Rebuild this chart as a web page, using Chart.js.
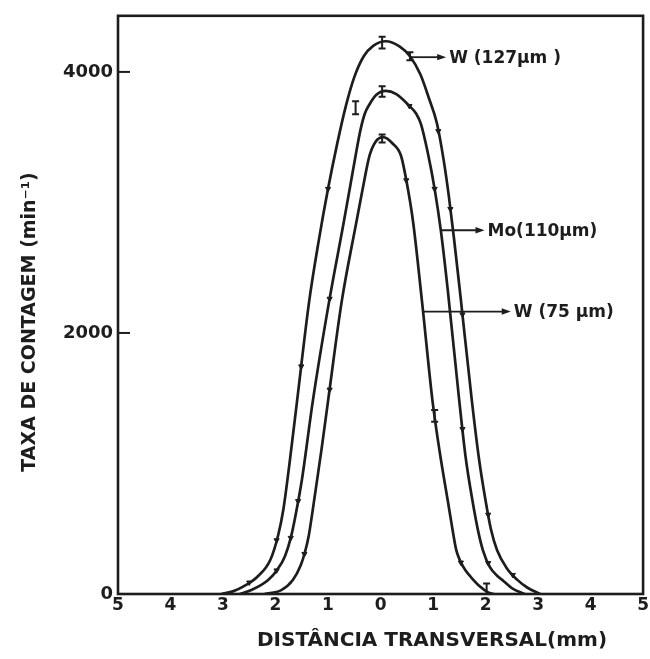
<!DOCTYPE html>
<html>
<head>
<meta charset="utf-8">
<script src="https://cdn.jsdelivr.net/npm/chart.js@4.4.1/dist/chart.umd.min.js"></script>
<style>
html,body{margin:0;padding:0;background:#fff;}
#wrap{width:650px;height:659px;}
</style>
</head>
<body>
<div id="wrap"><canvas id="c" width="650" height="659"></canvas></div>
<script>
// ---- data ----
const seriesNames = ['W (127µm )', 'Mo(110µm)', 'W (75 µm)'];

// W (127 µm) curve
const w127X = [-3.03, -2.80, -2.60, -2.35, -2.10, -1.95, -1.85, -1.74, -1.59, -1.36, -1.18, -1.00, -0.82, -0.66, -0.50, -0.32, -0.14, 0.10, 0.36, 0.56, 0.76, 0.92, 1.07, 1.20, 1.30, 1.40, 1.52, 1.74, 1.87, 2.00, 2.10, 2.22, 2.40, 2.60, 2.80, 3.04];
const w127Y = [0, 22, 60, 130, 260, 450, 650, 980, 1478, 2240, 2700, 3104, 3460, 3740, 3960, 4120, 4200, 4235, 4195, 4120, 3980, 3800, 3612, 3330, 3050, 2720, 2290, 1478, 1050, 716, 500, 335, 200, 110, 48, 0];

// Mo (110 µm) curve
const moX = [-2.68, -2.46, -2.14, -1.96, -1.82, -1.71, -1.62, -1.50, -1.29, -0.98, -0.70, -0.58, -0.47, -0.38, -0.30, -0.22, -0.08, 0.10, 0.30, 0.55, 0.68, 0.77, 0.90, 1.03, 1.15, 1.28, 1.50, 1.62, 1.75, 1.86, 1.95, 2.08, 2.22, 2.34, 2.50, 2.74];
const moY = [0, 30, 107, 190, 290, 430, 600, 869, 1478, 2240, 2850, 3120, 3370, 3560, 3680, 3745, 3825, 3855, 3830, 3739, 3680, 3600, 3380, 3104, 2780, 2330, 1478, 1050, 716, 480, 335, 208, 140, 100, 45, 0];

// W (75 µm) curve
const w75X = [-2.21, -1.89, -1.67, -1.52, -1.44, -1.37, -1.30, -1.21, -1.12, -1.00, -0.74, -0.46, -0.34, -0.21, -0.10, 0.05, 0.22, 0.39, 0.50, 0.62, 0.79, 0.99, 1.13, 1.28, 1.36, 1.44, 1.52, 1.62, 1.72, 1.90, 2.05, 2.15];
const w75Y = [0, 30, 107, 220, 320, 440, 620, 869, 1120, 1478, 2240, 2850, 3104, 3358, 3462, 3500, 3455, 3358, 3150, 2850, 2240, 1478, 1080, 716, 520, 340, 250, 180, 130, 55, 12, 0];

// measured points (markers) on each curve
const w127MarkX = [-2.50, -1.98, -1.51, -1.00, 1.10, 1.33, 1.56, 2.05, 2.52];
const w127MarkY = [88, 412, 1744, 3104, 3547, 2950, 2142, 608, 146];
const moMarkX = [-1.98, -1.71, -1.57, -0.97, 0.55, 1.03, 1.56, 2.05];
const moMarkY = [181, 430, 712, 2262, 3739, 3104, 1264, 237];
const w75MarkX = [-1.45, -0.97, 0.49, 1.53];
const w75MarkY = [307, 1566, 3170, 241];

// error bars (x, y, half-height)
const errX = [0.03, -0.475, 0.03, 0.03, 1.03, 2.02, 0.56];
const errY = [4225, 3726, 3850, 3490, 1364, 40, 4120];
const errE = [45, 50, 40, 30, 45, 40, 30];

// curve labels with arrows (start on curve, arrow tip x, y level)
const labelStartX = [0.57, 1.15, 0.81];
const labelTipX = [1.25, 1.98, 2.48];
const labelY = [4113, 2787, 2164];

const xTicks = [-5, -4, -3, -2, -1, 0, 1, 2, 3, 4, 5];
const yTicks = [0, 2000, 4000];
const xTitle = 'DISTÂNCIA TRANSVERSAL(mm)';
const yTitle = 'TAXA DE CONTAGEM (min⁻¹)';

// ---- drawing ----
const INK = '#1d1d1d';
const FONT = '"DejaVu Sans", "Liberation Sans", sans-serif';
const pts = (xs, ys) => xs.map((v, i) => ({x: v, y: ys[i]}));

const curve = (xs, ys, label) => ({
  type: 'line', label, data: pts(xs, ys),
  borderColor: INK, borderWidth: 2.7, pointRadius: 0,
  cubicInterpolationMode: 'monotone', fill: false
});
const marks = (xs, ys, label) => ({
  type: 'scatter', label, data: pts(xs, ys),
  pointStyle: 'triangle', rotation: 180, pointRadius: 3,
  backgroundColor: INK, borderColor: INK, borderWidth: 1, showLine: false
});

const overlay = {
  id: 'overlay',
  afterDatasetsDraw(chart) {
    const {ctx, chartArea: a, scales: {x, y}} = chart;
    ctx.save();
    ctx.strokeStyle = INK; ctx.fillStyle = INK; ctx.lineCap = 'butt';
    // error bars
    ctx.lineWidth = 2;
    errX.forEach((v, i) => {
      const px = x.getPixelForValue(v);
      const p1 = y.getPixelForValue(errY[i] + errE[i]);
      const p2 = y.getPixelForValue(errY[i] - errE[i]);
      ctx.beginPath();
      ctx.moveTo(px, p1); ctx.lineTo(px, p2);
      ctx.moveTo(px - 3.5, p1); ctx.lineTo(px + 3.5, p1);
      ctx.moveTo(px - 3.5, p2); ctx.lineTo(px + 3.5, p2);
      ctx.stroke();
    });
    // frame
    ctx.lineWidth = 2.6;
    ctx.strokeRect(a.left, a.top, a.right - a.left, a.bottom - a.top);
    // inward y ticks
    ctx.lineWidth = 2;
    yTicks.forEach(v => {
      if (v <= 0) return;
      const py = y.getPixelForValue(v);
      ctx.beginPath(); ctx.moveTo(a.left, py); ctx.lineTo(a.left + 12, py); ctx.stroke();
    });
    // labels with arrows
    ctx.font = 'bold 17px ' + FONT;
    ctx.textAlign = 'left'; ctx.textBaseline = 'middle';
    seriesNames.forEach((name, i) => {
      const x0 = x.getPixelForValue(labelStartX[i]);
      const x1 = x.getPixelForValue(labelTipX[i]);
      const py = y.getPixelForValue(labelY[i]);
      ctx.lineWidth = 1.8;
      ctx.beginPath(); ctx.moveTo(x0, py); ctx.lineTo(x1 - 6, py); ctx.stroke();
      ctx.beginPath();
      ctx.moveTo(x1, py);
      ctx.lineTo(x1 - 9, py - 3.2);
      ctx.lineTo(x1 - 9, py + 3.2);
      ctx.closePath(); ctx.fill();
      ctx.fillText(name, x1 + 3, py + 1);
    });
    // axis titles
    ctx.font = 'bold 20px ' + FONT;
    ctx.textAlign = 'center'; ctx.textBaseline = 'middle';
    ctx.fillText(xTitle, 432, 641);
    ctx.translate(30, 322);
    ctx.rotate(-Math.PI / 2);
    ctx.font = 'bold 19px ' + FONT;
    ctx.fillText(yTitle, 0, 0);
    ctx.restore();
  }
};

new Chart(document.getElementById('c'), {
  data: {
    datasets: [
      curve(w127X, w127Y, seriesNames[0]),
      curve(moX, moY, seriesNames[1]),
      curve(w75X, w75Y, seriesNames[2]),
      marks(w127MarkX, w127MarkY, seriesNames[0] + ' pts'),
      marks(moMarkX, moMarkY, seriesNames[1] + ' pts'),
      marks(w75MarkX, w75MarkY, seriesNames[2] + ' pts')
    ]
  },
  options: {
    responsive: false, animation: false, devicePixelRatio: 1,
    layout: {padding: {left: 0, right: 6, top: 13, bottom: 0}},
    plugins: {legend: {display: false}, tooltip: {enabled: false}},
    scales: {
      x: {
        type: 'linear', min: -5, max: 5,
        afterBuildTicks: s => { s.ticks = xTicks.map(v => ({value: v})); },
        afterFit: s => { s.height = 65; },
        grid: {display: false, drawTicks: false},
        border: {display: false},
        ticks: {
          autoSkip: false, maxRotation: 0, padding: 1, color: INK,
          font: {family: FONT, weight: 'bold', size: 17},
          callback: v => String(Math.abs(v))
        }
      },
      y: {
        type: 'linear', min: 0, max: 4430,
        afterBuildTicks: s => { s.ticks = yTicks.map(v => ({value: v})); },
        afterFit: s => { s.width = 118; },
        grid: {display: false, drawTicks: false},
        border: {display: false},
        ticks: {
          padding: 5, color: INK,
          font: {family: FONT, weight: 'bold', size: 18},
          callback: v => String(v)
        }
      }
    }
  },
  plugins: [overlay]
});
</script>
</body>
</html>
